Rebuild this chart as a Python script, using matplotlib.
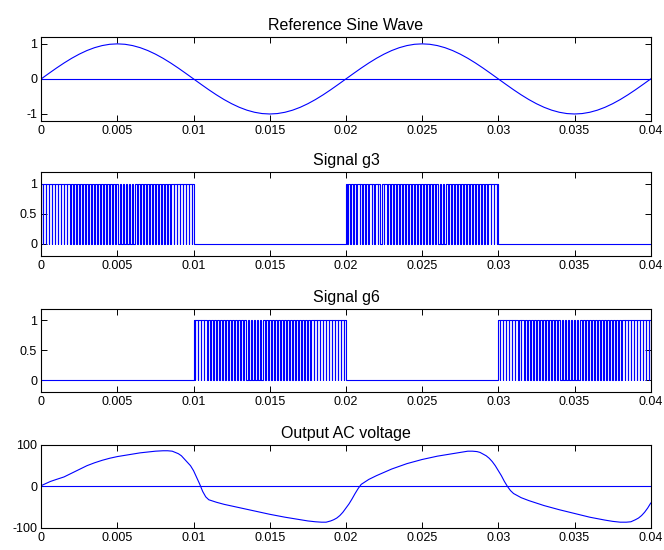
import matplotlib
matplotlib.use("Agg")
import matplotlib.pyplot as plt
import numpy as np

plt.rcParams["font.family"] = ["Liberation Sans", "DejaVu Sans"]

# reference sine, sampled every 0.5 ms (one period, repeated)
SINE_T_STEP = 0.0005
sine_period = [0, 0.156, 0.309, 0.454, 0.588, 0.707, 0.809, 0.891, 0.951, 0.988,
               1.0, 0.988, 0.951, 0.891, 0.809, 0.707, 0.588, 0.454, 0.309, 0.156,
               0, -0.156, -0.309, -0.454, -0.588, -0.707, -0.809, -0.891, -0.951, -0.988,
               -1.0, -0.988, -0.951, -0.891, -0.809, -0.707, -0.588, -0.454, -0.309, -0.156]

# gating signals: active half-cycle windows and off-gap fraction per carrier slot
CARRIER_T = 0.0002
g3_windows = [(0.0, 0.01), (0.02, 0.03)]
g6_windows = [(0.01, 0.02), (0.03, 0.04)]
g3_gaps = [0.08, 0.12, 0.05, 0.15, 0.10, 0.20, 0.18, 0.25, 0.22, 0.30,
           0.28, 0.35, 0.30, 0.38, 0.33, 0.40, 0.36, 0.42, 0.38, 0.44,
           0.40, 0.45, 0.42, 0.46, 0.43, 0.45, 0.44, 0.42, 0.45, 0.40,
           0.43, 0.38, 0.40, 0.35, 0.37, 0.32, 0.33, 0.28, 0.30, 0.25,
           0.26, 0.20, 0.22, 0.15, 0.18, 0.10, 0.12, 0.06, 0.10, 0.05]
g6_gaps = [0.10, 0.06, 0.14, 0.08, 0.18, 0.12, 0.24, 0.20, 0.28, 0.26,
           0.32, 0.30, 0.36, 0.33, 0.40, 0.37, 0.42, 0.40, 0.45, 0.41,
           0.46, 0.43, 0.45, 0.44, 0.46, 0.42, 0.45, 0.41, 0.44, 0.39,
           0.42, 0.36, 0.38, 0.33, 0.35, 0.30, 0.31, 0.26, 0.27, 0.22,
           0.23, 0.17, 0.19, 0.12, 0.15, 0.08, 0.11, 0.05, 0.08, 0.04]

# output AC voltage
vout_t = [0, 0.0003, 0.0006, 0.001, 0.0015, 0.002, 0.0025, 0.003, 0.0035, 0.004,
          0.0045, 0.005, 0.0055, 0.006, 0.0065, 0.007, 0.0075, 0.008, 0.0083, 0.0086,
          0.0088, 0.009, 0.0092, 0.0094, 0.0096, 0.0098, 0.01, 0.0102, 0.0104, 0.0106,
          0.0108, 0.011, 0.0115, 0.012, 0.013, 0.014, 0.015, 0.016, 0.017, 0.0175,
          0.018, 0.0184, 0.0187, 0.019, 0.0192, 0.0194, 0.0196, 0.0198, 0.02, 0.0202,
          0.0204, 0.0206, 0.0208, 0.021, 0.0215, 0.022, 0.0225, 0.023, 0.024, 0.025,
          0.026, 0.027, 0.0275, 0.028, 0.0283, 0.0286, 0.0288, 0.029, 0.0292, 0.0294,
          0.0296, 0.0298, 0.03, 0.0302, 0.0304, 0.0306, 0.0308, 0.031, 0.0315, 0.032,
          0.033, 0.034, 0.035, 0.036, 0.037, 0.0375, 0.038, 0.0384, 0.0387, 0.039,
          0.0392, 0.0394, 0.0396, 0.0398, 0.04]
vout_v = [2, 7, 12, 17, 23, 32, 41, 50, 57, 63,
          68, 72, 75, 78, 81, 83, 85, 86, 86, 85,
          82, 79, 74, 66, 58, 50, 38, 22, 6, -12,
          -25, -32, -38, -43, -51, -59, -67, -74, -80, -83,
          -85, -86, -86, -83, -80, -76, -70, -62, -52, -42,
          -30, -17, -5, 5, 17, 26, 34, 42, 55, 65,
          73, 79, 82, 85, 85, 84, 82, 78, 74, 68,
          60, 50, 38, 26, 12, 0, -10, -17, -27, -34,
          -46, -56, -65, -74, -81, -84, -86, -86, -85, -80,
          -76, -70, -62, -52, -40]

T_END = 0.04
xticks = [0, 0.005, 0.01, 0.015, 0.02, 0.025, 0.03, 0.035, 0.04]
xticklabels = ["0", "0.005", "0.01", "0.015", "0.02", "0.025", "0.03", "0.035", "0.04"]

BLUE = "#0000ff"
LW = 0.8


def gate_trace(windows, gaps):
    ts, ys = [0.0], [0.0]
    for start, end in windows:
        ts += [start, start]
        ys += [0, 1]
        for i, g in enumerate(gaps):
            s0 = start + i * CARRIER_T
            mid = s0 + CARRIER_T / 2
            a, b = mid - g * CARRIER_T / 2, mid + g * CARRIER_T / 2
            ts += [a, a, b, b]
            ys += [1, 0, 0, 1]
        ts += [end, end]
        ys += [1, 0]
    ts.append(T_END)
    ys.append(0)
    return ts, ys


def style(ax, ylim, yticks, yticklabels):
    ax.set_xlim(0, T_END)
    ax.set_ylim(*ylim)
    ax.set_xticks(xticks)
    ax.set_xticklabels(xticklabels)
    ax.set_yticks(yticks)
    ax.set_yticklabels(yticklabels)
    ax.tick_params(direction="in", top=True, right=True, length=4,
                   labelsize=9, pad=3, width=0.7)
    for sp in ax.spines.values():
        sp.set_linewidth(0.8)


fig = plt.figure(figsize=(6.64, 5.5), dpi=100)
L, W = 0.062, 0.918
ax1 = fig.add_axes([L, 0.780, W, 0.153])
ax2 = fig.add_axes([L, 0.535, W, 0.153])
ax3 = fig.add_axes([L, 0.287, W, 0.152])
ax4 = fig.add_axes([L, 0.040, W, 0.151])

# sine
sine_vals = sine_period * 2 + [0]
sine_t = [i * SINE_T_STEP for i in range(len(sine_vals))]
ax1.plot(sine_t, sine_vals, color=BLUE, lw=LW)
ax1.plot([0, T_END], [0, 0], color=BLUE, lw=LW)
style(ax1, (-1.2, 1.2), [-1, 0, 1], ["-1", "0", "1"])
ax1.set_title("Reference Sine Wave", fontsize=11.5, pad=5)

t3, y3 = gate_trace(g3_windows, g3_gaps)
ax2.plot(t3, y3, color=BLUE, lw=LW)
style(ax2, (-0.2, 1.2), [0, 0.5, 1], ["0", "0.5", "1"])
ax2.set_title("Signal g3", fontsize=11.5, pad=5)

t6, y6 = gate_trace(g6_windows, g6_gaps)
ax3.plot(t6, y6, color=BLUE, lw=LW)
style(ax3, (-0.2, 1.2), [0, 0.5, 1], ["0", "0.5", "1"])
ax3.set_title("Signal g6", fontsize=11.5, pad=5)

ax4.plot(vout_t, vout_v, color=BLUE, lw=LW)
ax4.plot([0, T_END], [0, 0], color=BLUE, lw=LW)
style(ax4, (-100, 100), [-100, 0, 100], ["-100", "0", "100"])
ax4.set_title("Output AC voltage", fontsize=11.5, pad=5)

fig.savefig("out.png", dpi=100)
